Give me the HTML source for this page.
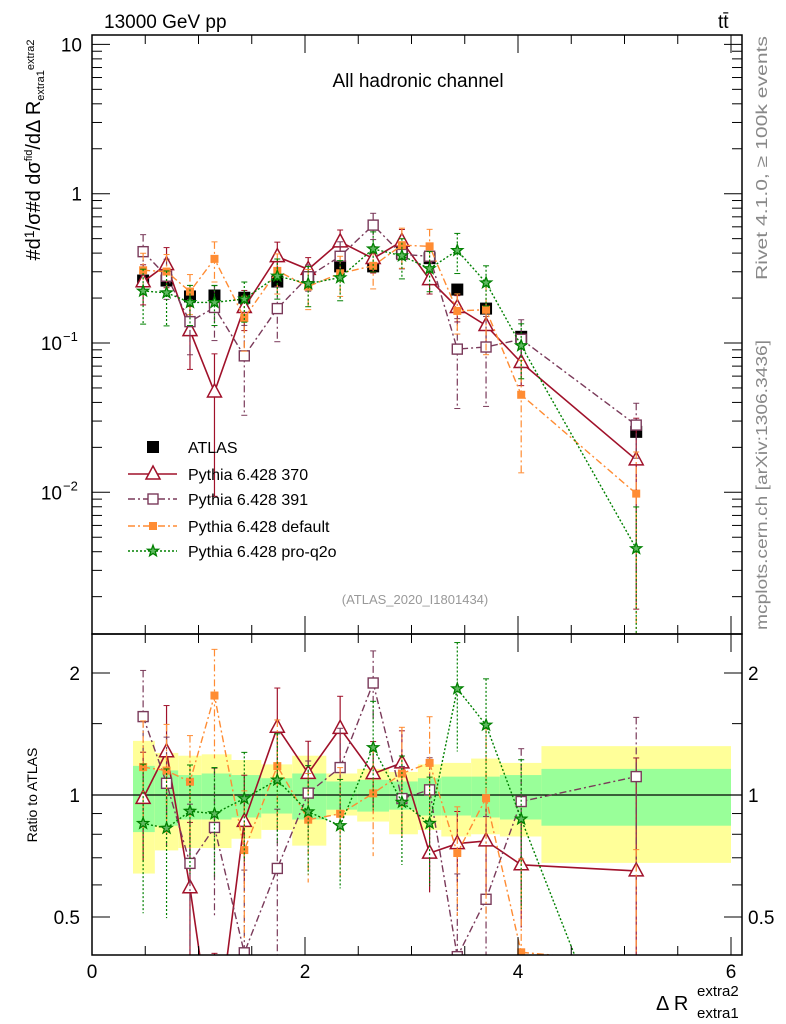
<!DOCTYPE html>
<html><head><meta charset="utf-8">
<style>
html,body{margin:0;padding:0;background:#fff;overflow:hidden;width:786px;height:1024px;}
svg{display:block;font-family:"Liberation Sans",sans-serif;}
</style></head>
<body>
<svg id="chart" width="786" height="1024" viewBox="0 0 786 1024" xmlns="http://www.w3.org/2000/svg">
<g id="bands"></g>
<g id="marks"></g>
<g id="axes"></g>
<text x="104" y="28" font-size="19">13000 GeV pp</text>
<text x="718" y="28" font-size="19">tt̄</text>
<text x="418" y="87" font-size="19" text-anchor="middle">All hadronic channel</text>
<text x="415" y="604" font-size="13" fill="#999" text-anchor="middle">(ATLAS_2020_I1801434)</text>
<text transform="translate(767,158) rotate(-90)" font-size="16" fill="#888" text-anchor="middle" textLength="244" lengthAdjust="spacingAndGlyphs">Rivet 4.1.0, ≥ 100k events</text>
<text transform="translate(767,485) rotate(-90)" font-size="16" fill="#888" text-anchor="middle" textLength="290" lengthAdjust="spacingAndGlyphs">mcplots.cern.ch [arXiv:1306.3436]</text>
<text transform="translate(40,150) rotate(-90)" font-size="20" text-anchor="middle">#d<tspan font-size="14" dy="-6">1</tspan><tspan dy="6">/σ#d dσ</tspan><tspan font-size="11" dy="-8">fid</tspan><tspan dy="8">/dΔ R</tspan><tspan font-size="11" dy="4">extra1</tspan><tspan font-size="11" dy="-10">extra2</tspan></text>
<text transform="translate(37,795) rotate(-90)" font-size="14" text-anchor="middle">Ratio to ATLAS</text>
<text x="656" y="1010" font-size="20">Δ R</text>
<text x="697" y="996" font-size="15">extra2</text>
<text x="697" y="1018" font-size="15">extra1</text>
<g id="legend"></g>
</svg>
<script>
const edges=[0.385,0.59,0.81,1.03,1.31,1.59,1.88,2.2,2.49,2.79,3.06,3.28,3.56,3.83,4.22,6.0];
const centers=[0.48,0.70,0.92,1.15,1.43,1.74,2.03,2.33,2.64,2.91,3.17,3.43,3.70,4.03,5.11];
const atlas=[0.262,0.262,0.205,0.208,0.201,0.258,0.275,0.326,0.326,0.40,0.37,0.228,0.17,0.11,0.0254];
const atlasErr=[0.03,0.03,0.02,0.02,0.015,0.02,0.02,0.03,0.03,0.03,0.03,0.02,0.015,0.01,0.003];
const yellowUp=[1.36,1.27,1.25,1.26,1.22,1.19,1.25,1.13,1.16,1.14,1.19,1.2,1.23,1.2,1.32];
const yellowDn=[0.64,0.73,0.74,0.74,0.78,0.82,0.75,0.89,0.86,0.80,0.82,0.79,0.80,0.79,0.68];
const greenUp=[1.18,1.15,1.12,1.13,1.12,1.10,1.13,1.08,1.09,1.08,1.10,1.11,1.11,1.12,1.16];
const greenDn=[0.81,0.84,0.87,0.87,0.88,0.90,0.87,0.92,0.91,0.92,0.89,0.89,0.88,0.87,0.84];
const mc370=[0.257,0.335,0.121,0.047,0.173,0.379,0.311,0.476,0.368,0.48,0.266,0.173,0.131,0.074,0.0165];
const err370=[0.3,0.3,0.45,0.8,0.3,0.25,0.2,0.2,0.2,0.2,0.2,0.2,0.25,0.3,0.9];
const mc391=[0.409,0.280,0.139,0.173,0.082,0.170,0.278,0.381,0.616,0.392,0.381,0.091,0.094,0.106,0.0282];
const err391=[0.3,0.3,0.4,0.4,0.6,0.4,0.2,0.25,0.2,0.2,0.2,0.6,0.6,0.35,0.4];
const mcDef=[0.307,0.301,0.221,0.366,0.147,0.304,0.239,0.293,0.329,0.452,0.444,0.164,0.167,0.045,0.0098];
const errDef=[0.3,0.3,0.3,0.3,0.4,0.3,0.3,0.3,0.3,0.3,0.3,0.3,0.5,0.7,0.9];
const mcQ2o=[0.223,0.217,0.187,0.187,0.197,0.281,0.250,0.274,0.427,0.384,0.315,0.417,0.253,0.096,0.0042];
const errQ2o=[0.4,0.4,0.3,0.3,0.3,0.3,0.3,0.3,0.3,0.3,0.3,0.3,0.3,0.4,0.9];
const xTicks=[0,2,4,6];

const NS="http://www.w3.org/2000/svg";
const L=92,R=742,T=35,MB=634,RB=955;
const xs=v=>92+v*106.5;
const ym=v=>343-149.3*(Math.log10(v)+1);
const yr=r=>795-122*Math.log2(r);
const cm=(y)=>Math.max(T,Math.min(MB,y));
function mk(tag,attrs,parent){const e=document.createElementNS(NS,tag);for(const k in attrs)e.setAttribute(k,attrs[k]);parent.appendChild(e);return e;}
const bands=document.getElementById('bands'),marks=document.getElementById('marks'),axes=document.getElementById('axes'),legend=document.getElementById('legend');

for(let i=0;i<centers.length;i++){
  let r=mk('rect',{x:xs(edges[i]),y:yr(yellowUp[i]),width:xs(edges[i+1])-xs(edges[i]),height:yr(yellowDn[i])-yr(yellowUp[i]),fill:'#ffff99'},bands);
  
  
  let g=mk('rect',{x:xs(edges[i]),y:yr(greenUp[i]),width:xs(edges[i+1])-xs(edges[i]),height:yr(greenDn[i])-yr(greenUp[i]),fill:'#99ff99'},bands);
  
  
}
mk('line',{x1:L,x2:R,y1:yr(1),y2:yr(1),stroke:'#000','stroke-width':1.2},bands);

function marker(type,x,y,color,parent){
  if(type==='tri')return mk('polygon',{points:`${x},${y-8} ${x-7},${y+5} ${x+7},${y+5}`,fill:'#fff',stroke:color,'stroke-width':1.5},parent);
  if(type==='osq')return mk('rect',{x:x-5,y:y-5,width:10,height:10,fill:'#fff',stroke:color,'stroke-width':1.4},parent);
  if(type==='fsq')return mk('rect',{x:x-4,y:y-4,width:8,height:8,fill:color},parent);
  if(type==='bsq')return mk('rect',{x:x-6,y:y-6,width:12,height:12,fill:color},parent);
  if(type==='star'){let p=[];for(let k=0;k<10;k++){const a=-Math.PI/2+k*Math.PI/5,rr=k%2?2.4:5.8;p.push((x+rr*Math.cos(a)).toFixed(1)+','+(y+rr*Math.sin(a)).toFixed(1));}return mk('polygon',{points:p.join(' '),fill:'#5fb85f',stroke:color,'stroke-width':1.3},parent);}
}
const series=[
 {name:'370',vals:mc370,err:err370,color:'#a0112a',dash:'',type:'tri',w:1.6},
 {name:'391',vals:mc391,err:err391,color:'#7a3a5a',dash:'7,3,2,3',type:'osq',w:1.4},
 {name:'default',vals:mcDef,err:errDef,color:'#ff8c33',dash:'7,3,2,3',type:'fsq',w:1.4},
 {name:'pro-q2o',vals:mcQ2o,err:errQ2o,color:'#008000',dash:'2,2',type:'star',w:1.4}
];
const defs=mk('defs',{},document.getElementById('chart'));
const c1=mk('clipPath',{id:'cm'},defs);mk('rect',{x:L,y:T,width:R-L,height:MB-T},c1);
const c2=mk('clipPath',{id:'cr'},defs);mk('rect',{x:L,y:MB,width:R-L,height:RB-MB},c2);
const gm=mk('g',{'clip-path':'url(#cm)'},marks);
const gr=mk('g',{'clip-path':'url(#cr)'},marks);

atlas.forEach((v,i)=>{
  const x=xs(centers[i]);
  mk('line',{x1:x,x2:x,y1:cm(ym(v+atlasErr[i])),y2:cm(ym(v-atlasErr[i])),stroke:'#000','stroke-width':1},gm);
  const m=marker('bsq',x,ym(v),'#000',gm);
  
  
});
series.forEach(s=>{
  const gM=mk('g',{},gm),gR=mk('g',{},gr);
  
  
  
  
  const pm=[],pr=[];
  s.vals.forEach((v,i)=>{
    const x=xs(centers[i]),e=v*s.err[i],r=v/atlas[i];
    pm.push(x+','+ym(v).toFixed(1));pr.push(x+','+yr(r).toFixed(1));
    const lo=Math.max(v-e,1e-5);
    mk('line',{x1:x,x2:x,y1:ym(v+e),y2:ym(lo),stroke:s.color,'stroke-width':1.2,'stroke-dasharray':s.dash},gM);
    mk('line',{x1:x-3,x2:x+3,y1:ym(v+e),y2:ym(v+e),stroke:s.color,'stroke-width':1},gM);
    mk('line',{x1:x-3,x2:x+3,y1:ym(lo),y2:ym(lo),stroke:s.color,'stroke-width':1},gM);
    const rlo=Math.max((v-e)/atlas[i],1e-3),rhi=(v+e)/atlas[i];
    mk('line',{x1:x,x2:x,y1:yr(rhi),y2:yr(rlo),stroke:s.color,'stroke-width':1.2,'stroke-dasharray':s.dash},gR);
    mk('line',{x1:x-3,x2:x+3,y1:yr(rhi),y2:yr(rhi),stroke:s.color,'stroke-width':1},gR);
  });
  mk('polyline',{points:pm.join(' '),fill:'none',stroke:s.color,'stroke-width':s.w,'stroke-dasharray':s.dash},gM);
  mk('polyline',{points:pr.join(' '),fill:'none',stroke:s.color,'stroke-width':s.w,'stroke-dasharray':s.dash},gR);
  s.vals.forEach((v,i)=>{
    const x=xs(centers[i]);
    const a=marker(s.type,x,ym(v),s.color,gM);
    
    
    const b=marker(s.type,x,yr(v/atlas[i]),s.color,gR);
    
    
  });
});

mk('rect',{x:L,y:T,width:R-L,height:MB-T,fill:'none',stroke:'#000','stroke-width':1.5},axes);
mk('rect',{x:L,y:MB,width:R-L,height:RB-MB,fill:'none',stroke:'#000','stroke-width':1.5},axes);
for(let d=-3;d<=1;d++){for(let k=1;k<10;k++){const v=k*Math.pow(10,d),y=ym(v);if(y<T||y>MB)continue;const len=k===1?18:10;
  mk('line',{x1:L,x2:L+len,y1:y,y2:y,stroke:'#000'},axes);mk('line',{x1:R,x2:R-len,y1:y,y2:y,stroke:'#000'},axes);}}
const mLabs=[[10,'10',''],[1,'1',''],[0.1,'10','−1'],[0.01,'10','−2']];
mLabs.forEach(l=>{const t=mk('text',{x:l[2]?62:82,y:ym(l[0])+7,'font-size':19,'text-anchor':'end'},axes);t.textContent=l[1];
  
  
  if(l[2]){const s=mk('text',{x:63,y:ym(l[0])-2,'font-size':13},axes);s.textContent=l[2];}});
[0.5,0.6,0.7,0.8,0.9,1,1.5,2].forEach(r=>{const y=yr(r);const len=(r===0.5||r===1||r===2)?18:10;
  mk('line',{x1:L,x2:L+len,y1:y,y2:y,stroke:'#000'},axes);mk('line',{x1:R,x2:R-len,y1:y,y2:y,stroke:'#000'},axes);});
[[2,'2'],[1,'1'],[0.5,'0.5']].forEach(l=>{
  const t=mk('text',{x:80,y:yr(l[0])+7,'font-size':19,'text-anchor':'end'},axes);t.textContent=l[1];
  
  
  const t2=mk('text',{x:748,y:yr(l[0])+7,'font-size':19},axes);t2.textContent=l[1];
  
  
});
for(let v=0;v<=6.01;v+=0.5){const x=xs(v),maj=Math.abs(v-Math.round(v/2)*2)<0.01,len=maj?18:9;
  mk('line',{x1:x,x2:x,y1:MB,y2:MB-len,stroke:'#000'},axes);mk('line',{x1:x,x2:x,y1:T,y2:T+len,stroke:'#000'},axes);
  mk('line',{x1:x,x2:x,y1:RB,y2:RB-len,stroke:'#000'},axes);mk('line',{x1:x,x2:x,y1:MB,y2:MB+len,stroke:'#000'},axes);}
xTicks.forEach(v=>{const t=mk('text',{x:xs(v),y:978,'font-size':19,'text-anchor':'middle'},axes);t.textContent=String(v);
  
  });

const legItems=[['ATLAS','#000','','bsq'],['Pythia 6.428 370','#a0112a','','tri'],['Pythia 6.428 391','#7a3a5a','7,3,2,3','osq'],['Pythia 6.428 default','#ff8c33','7,3,2,3','fsq'],['Pythia 6.428 pro-q2o','#008000','2,2','star']];
const legY=[447,474,499,526,551];
legItems.forEach((it,i)=>{const y=legY[i];
  const g=mk('g',{},legend);
  
  
  if(i>0)mk('line',{x1:128,x2:177,y1:y,y2:y,stroke:it[1],'stroke-width':1.5,'stroke-dasharray':it[2]},g);
  marker(it[3],153,y,it[1],g);
  const t=mk('text',{x:188,y:y+6,'font-size':16},g);t.textContent=it[0];});
</script>
</body></html>
